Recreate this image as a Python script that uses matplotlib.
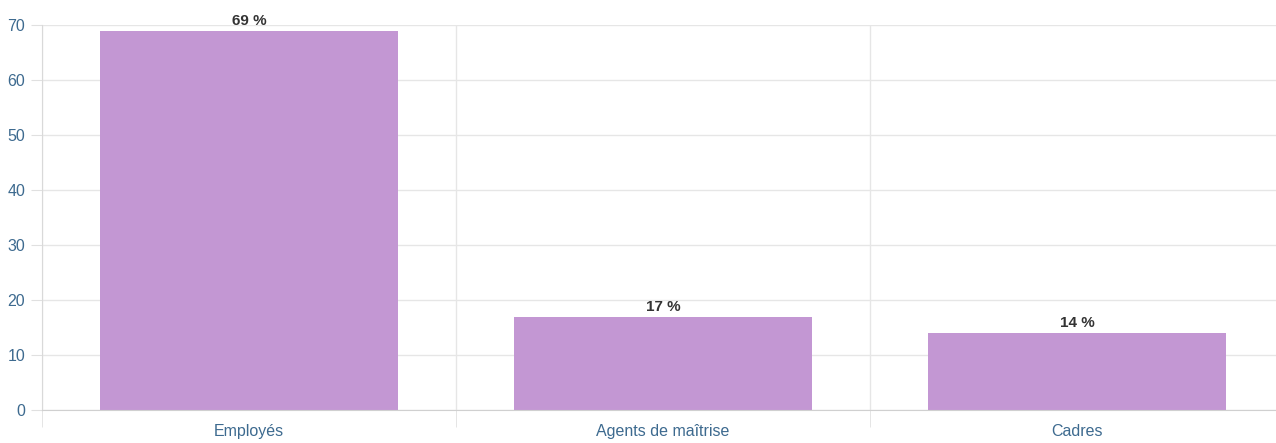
import matplotlib
matplotlib.use("Agg")
import matplotlib.pyplot as plt

categories = ["Employés", "Agents de maîtrise", "Cadres"]
values = [69, 17, 14]
labels = ["69 %", "17 %", "14 %"]
yticks = [0, 10, 20, 30, 40, 50, 60, 70]

plt.rcParams['font.family'] = ['Liberation Sans', 'DejaVu Sans']

W, H = 1276, 443
fig = plt.figure(figsize=(W / 100, H / 100), dpi=100)
# plot area: x 42..1284 px, y 25..410 px
ax = fig.add_axes([42 / W, (H - 410) / H, 1242 / W, 385 / H])

x = range(len(categories))
ax.bar(x, values, width=0.72, color="#c397d3", zorder=2)
for i, v in enumerate(values):
    ax.text(i, v + 0.5, labels[i], ha="center", va="bottom", fontsize=11,
            fontweight="bold", color="#333333", zorder=3)

ax.set_xlim(-0.5, len(categories) - 0.5)
ax.set_ylim(0, 70)
ax.set_yticks(yticks)
ax.set_xticks(x)
ax.set_xticklabels(categories)
ax.set_xticks([-0.5, 0.5, 1.5, 2.5], minor=True)

ax.grid(axis="y", color="#e6e6e6", linewidth=1, zorder=0)
ax.grid(axis="x", which="minor", color="#e6e6e6", linewidth=1, zorder=0)
ax.tick_params(axis="y", length=8, color="#e0e0e0", labelcolor="#3d6a8f",
               labelsize=11.5, pad=4)
ax.tick_params(axis="x", which="major", length=0, labelcolor="#3d6a8f",
               labelsize=11.5, pad=10)
ax.tick_params(axis="x", which="minor", length=12, color="#e0e0e0")

for side in ["top", "right"]:
    ax.spines[side].set_visible(False)
ax.spines["left"].set_color("#d9d9d9")
ax.spines["bottom"].set_color("#d0d0d0")

fig.savefig("out.png", dpi=100)
